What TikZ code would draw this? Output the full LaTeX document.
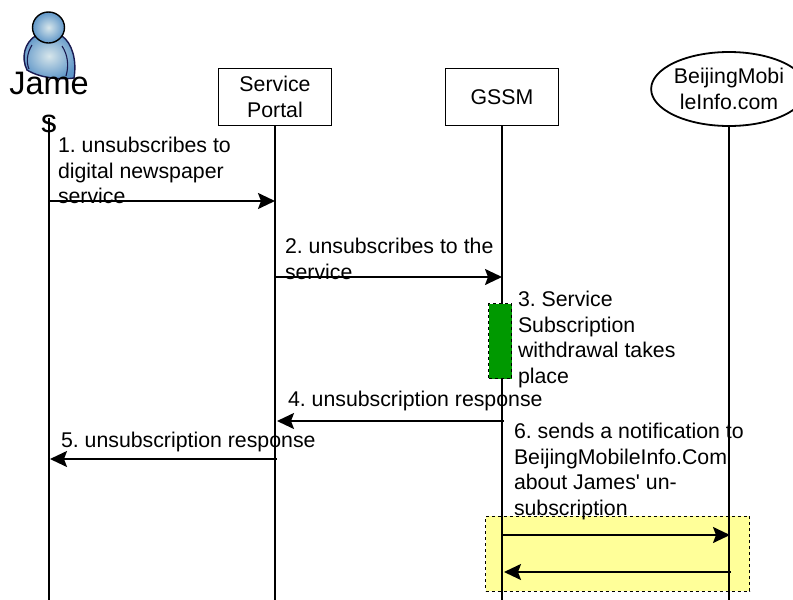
\documentclass[tikz,border=0pt]{standalone}
\usepackage{fontspec}
\setmainfont[Ligatures=NoCommon]{Liberation Sans}
\usetikzlibrary{arrows.meta,shapes.geometric}
\definecolor{bodyblue}{RGB}{95,150,200}
\definecolor{lightblue}{RGB}{215,230,235}
\definecolor{outl}{RGB}{25,25,80}
\definecolor{zoney}{RGB}{255,255,153}
\definecolor{actg}{RGB}{0,153,0}
\tikzset{
 x=1pt,y=-1pt,
 lbl/.style={inner sep=0pt,outer sep=0pt,align=left,anchor=north west,font=\fontsize{21.3}{25.6}\selectfont},
 boxn/.style={draw=black,line width=1.8pt,fill=white,align=center,inner sep=0pt,minimum width=113pt,minimum height=57pt,font=\fontsize{21.3}{25.6}\selectfont},
 life/.style={line width=1.8pt,black},
 msg/.style={line width=1.9pt,-{Stealth[length=17pt,width=16pt,inset=3pt]}},
 zone/.style={draw=black,dashed,line width=0.9pt},
}
\begin{document}
\frenchspacing
\begin{tikzpicture}
\useasboundingbox (0,0) rectangle (793,600);
% yellow zone and activation
\node[zone,fill=zoney,minimum width=264pt,minimum height=75pt,inner sep=0pt] (zone) at (617.5,553.5) {};
% heads
\node[boxn] (portal) at (275,97) {Service\\Portal};
\node[boxn] (gssm) at (502,97) {GSSM};
\node[draw=black,line width=1.8pt,fill=white,ellipse,minimum width=150pt,minimum height=74pt,inner sep=0pt,align=center,font=\fontsize{21.3}{25.6}\selectfont] (bj) at (729,89) {BeijingMobi\\leInfo.com};
\coordinate (jtop) at (49,118);
\coordinate (jbot) at (49,600);
\coordinate (pbot) at (275,600);
\coordinate (gbot) at (502,600);
\coordinate (bbot) at (729,600);
\draw[life] (jtop) -- (jbot);
\draw[life] (portal.south) -- (pbot);
\draw[life] (gssm.south) -- (gbot);
\draw[life] (bj.south) -- (bbot);
\node[zone,fill=actg,minimum width=23pt,minimum height=75pt,inner sep=0pt] (act) at (500,341) {};
% person
\shade[draw=outl,line width=1.4pt,outer color=bodyblue,inner color=lightblue]
 (27,70) .. controls (21,58) and (24,42) .. (37,35) .. controls (48,32) and (56,33) .. (62,36) .. controls (72,43) and (77,60) .. (74,78) .. controls (60,80) and (40,78) .. (27,70) -- cycle;
\draw[outl,line width=1.1pt] (32,45) .. controls (27,53) and (26,62) .. (29,69);
\draw[outl,line width=1.1pt] (62,46) .. controls (68,55) and (69,66) .. (66,76);
\shade[draw=black,line width=1.4pt,outer color=bodyblue,inner color=lightblue] (48.5,27.5) circle[x radius=16pt,y radius=15.5pt];
\node[inner sep=0pt,align=center,font=\fontsize{32.5}{38}\selectfont,anchor=north] (james) at (49,72) {Jame\\s};
% messages
\coordinate (m1a) at (49,201); \coordinate (m1b) at (275,201);
\coordinate (m2a) at (275,277); \coordinate (m2b) at (502,277);
\coordinate (m4a) at (504,421); \coordinate (m4b) at (277,421);
\coordinate (m5a) at (277,459); \coordinate (m5b) at (50,459);
\coordinate (m6a) at (502,535); \coordinate (m6b) at (730,535);
\coordinate (m7a) at (731,572); \coordinate (m7b) at (504,572);
\draw[msg] (m1a) -- (m1b);
\draw[msg] (m2a) -- (m2b);
\draw[msg] (m4a) -- (m4b);
\draw[msg] (m5a) -- (m5b);
\draw[msg] (m6a) -- (m6b);
\draw[msg] (m7a) -- (m7b);
% labels
\node[lbl] (l1) at (58,137) {1. unsubscribes to\\digital newspaper\\service};
\node[lbl] (l2) at (285,238) {2. unsubscribes to the\\service};
\node[lbl] (l3) at (518,291) {3. Service\\Subscription\\withdrawal takes\\place};
\node[lbl] (l4) at (288,391) {4. unsubscription response};
\node[lbl] (l5) at (61,432) {5. unsubscription response};
\node[lbl] (l6) at (514,423) {6. sends a notification to\\BeijingMobileInfo.Com\\about James\textquotesingle{} un-\\subscription};
\end{tikzpicture}
\end{document}
